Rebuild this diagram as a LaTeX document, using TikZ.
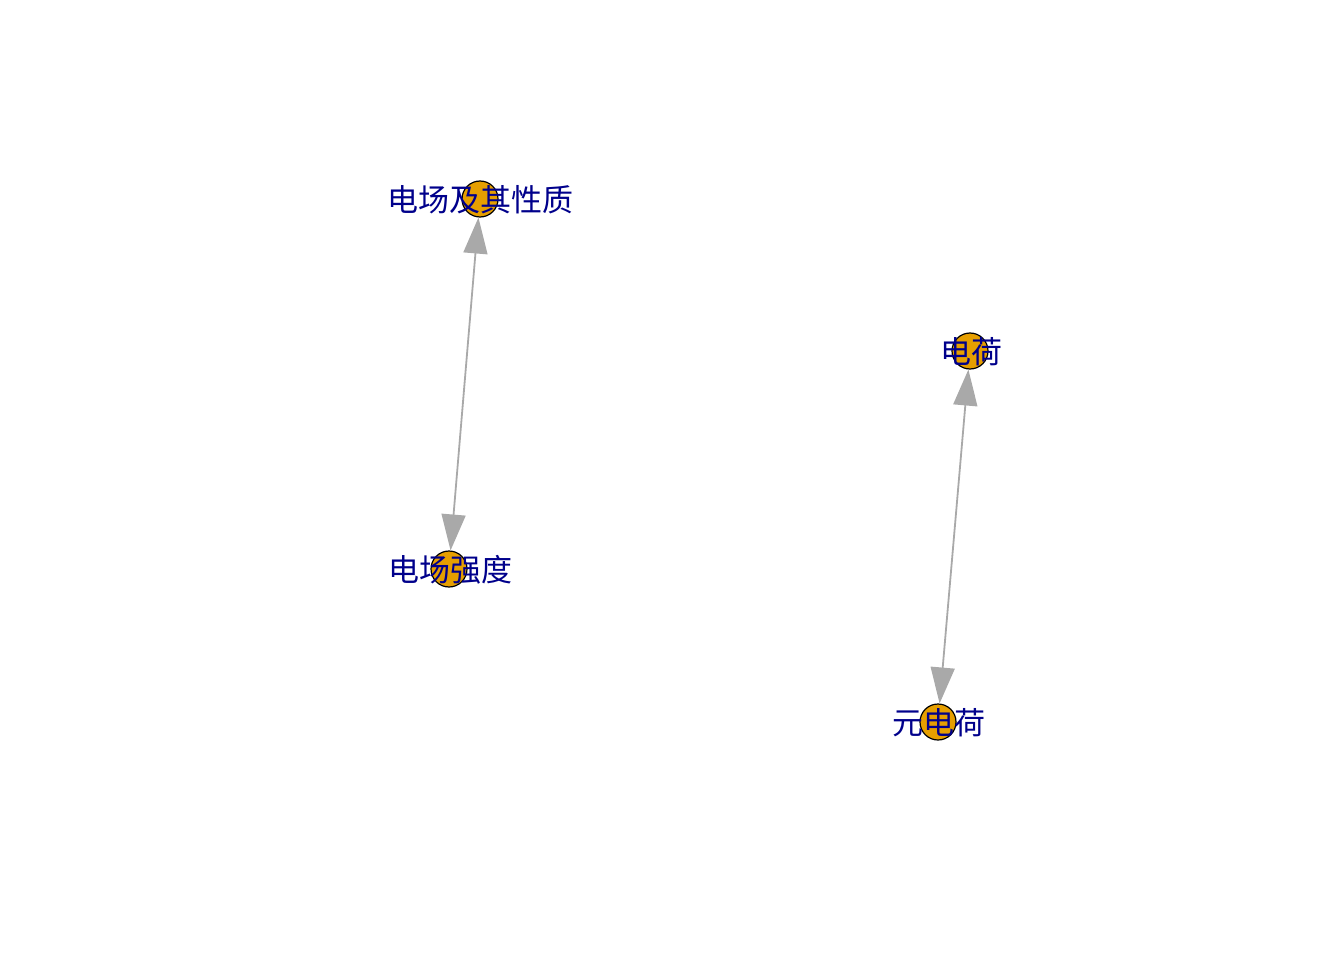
\documentclass[tikz,border=0pt]{standalone}
\usepackage{fontspec}
\newfontfamily\cjk{Noto Sans CJK SC}
\usetikzlibrary{arrows.meta}
\definecolor{vfill}{HTML}{E69F00}
\definecolor{edgegray}{HTML}{A9A9A9}
\definecolor{labblue}{HTML}{00008B}
\tikzset{
  vert/.style={circle,draw=black,line width=1.2pt,fill=vfill,minimum size=36pt,inner sep=0pt},
  vlabel/.style={text=labblue,font=\cjk\fontsize{31pt}{33pt}\selectfont,inner sep=0pt,anchor=center},
  edgeline/.style={draw=edgegray,line width=1.8pt,{Triangle[length=36pt,width=24pt]}-{Triangle[length=36pt,width=24pt]}}
}
\begin{document}
\begin{tikzpicture}[x=1pt,y=-1pt]
\useasboundingbox (0,0) rectangle (1344,960);
\node[vert] (A) at (480,199) {};
\node[vert] (B) at (449,569) {};
\node[vert] (C) at (970,351) {};
\node[vert] (D) at (938,722) {};
\draw[edgeline] (A) -- (B);
\draw[edgeline] (C) -- (D);
\node[vlabel] (LA) at (480,200) {电场及其性质};
\node[vlabel] (LB) at (450,570) {电场强度};
\node[vlabel] (LC) at (971,352) {电荷};
\node[vlabel] (LD) at (939,723) {元电荷};
\end{tikzpicture}
\end{document}
